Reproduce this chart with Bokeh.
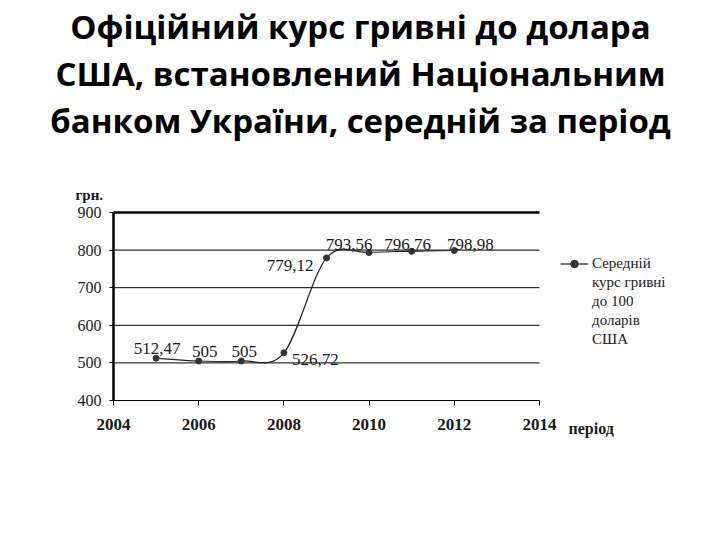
import numpy as np
from bokeh.plotting import figure
from bokeh.models import (ColumnDataSource, Legend, LegendItem, FixedTicker,
                          LinearAxis, Range1d, Label, Title)
from bokeh.core.properties import value
from bokeh.embed import file_html
from bokeh.resources import INLINE

# ---------------- data ----------------
years = [2005, 2006, 2007, 2008, 2009, 2010, 2011, 2012]
rates = [512.47, 505, 505, 526.72, 779.12, 793.56, 796.76, 798.98]
rate_labels = ["512,47", "505", "505", "526,72", "779,12", "793,56", "796,76", "798,98"]
x_ticks = [2004, 2006, 2008, 2010, 2012, 2014]
y_ticks = [400, 500, 600, 700, 800, 900]
title_lines = ["Офіційний курс гривні до долара",
               "США, встановлений Національним",
               "банком України, середній за період"]
legend_lines = ["Середній", "курс гривні", "до 100", "доларів", "США"]
y_unit = "грн."
x_name = "період"

# label placement (pixel nudges, layout only)
label_dx = [1, 6, 3, 8, -13, -20, -4, 16]
label_dy = [-10, -10, -10, 7, 8, -8, -7, -6]
label_align = ["center", "center", "center", "left", "right", "center", "center", "center"]

SERIF = "Liberation Serif"
TXT = "#1a1a1a"

# ---------------- layout (pixels) ----------------
W, H = 720, 540
FL, FR, FT, FB = 45, 675, 142, 450      # frame edges on the canvas
AX_L, AX_R, AX_T, AX_B = 113, 539, 212, 400  # where the axes box sits
xs0, xs1 = x_ticks[0], x_ticks[-1]
ys0, ys1 = y_ticks[0], y_ticks[-1]
kx = (AX_R - AX_L) / (xs1 - xs0)
ky = (AX_B - AX_T) / (ys1 - ys0)
x_range = Range1d(xs0 - (AX_L - FL) / kx, xs1 + (FR - AX_R) / kx)
y_range = Range1d(ys0 - (FB - AX_B) / ky, ys1 + (AX_T - FT) / ky)

p = figure(width=W, height=H, output_backend="svg", toolbar_location=None,
           x_range=x_range, y_range=y_range,
           min_border_left=FL, min_border_right=W - FR, min_border_top=FT,
           min_border_bottom=H - FB, x_axis_type=None, y_axis_type=None)
p.outline_line_color = None
p.background_fill_color = "white"
p.border_fill_color = "white"

# axes, crossing at the corner of the value box
xa = LinearAxis(ticker=FixedTicker(ticks=x_ticks), fixed_location=ys0, bounds=(xs0, xs1))
xa.axis_line_color = "black"
xa.axis_line_width = 1
xa.major_tick_out = 5
xa.major_tick_in = 0
xa.major_tick_line_color = "black"
xa.minor_tick_line_color = None
xa.major_label_standoff = 13
xa.major_label_text_font = SERIF
xa.major_label_text_font_size = "17px"
xa.major_label_text_font_style = "bold"
xa.major_label_text_color = TXT
p.add_layout(xa, "below")

ya = LinearAxis(ticker=FixedTicker(ticks=y_ticks), fixed_location=xs0, bounds=(ys0, ys1))
ya.axis_line_color = "black"
ya.axis_line_width = 2.5
ya.major_tick_out = 4
ya.major_tick_in = 0
ya.major_tick_line_color = "black"
ya.minor_tick_line_color = None
ya.major_label_standoff = 8
ya.major_label_text_font = SERIF
ya.major_label_text_font_size = "16px"
ya.major_label_text_color = TXT
p.add_layout(ya, "left")

# horizontal grid lines across the value box (top one heavier)
p.segment(x0=xs0, x1=xs1, y0=y_ticks[1:-1], y1=y_ticks[1:-1],
          line_color="black", line_width=1)
p.segment(x0=xs0, x1=xs1, y0=[ys1], y1=[ys1], line_color="black", line_width=2.5)

# title: three centred lines, stacked upward from the frame (last line first)
p.title.text = ""
p.title.standoff = 0
p.title.text_font_size = "0px"
for line in reversed(title_lines):
    p.add_layout(Title(text=line, align="center", text_font="Open Sans",
                       text_font_size="33px", text_font_style="bold",
                       text_color="black", text_line_height=1.0, standoff=0,
                       offset=0), "above")

# smooth line (Catmull-Rom segments as Bezier curves through the data points)
xs = np.array(years, dtype=float)
ys = np.array(rates, dtype=float)
xp = np.concatenate([[xs[0]], xs, [xs[-1]]])
yp = np.concatenate([[ys[0]], ys, [ys[-1]]])
seg = ColumnDataSource(dict(
    x0=xs[:-1], y0=ys[:-1], x1=xs[1:], y1=ys[1:],
    cx0=xs[:-1] + (xp[2:-1] - xp[:-3]) / 6.0,
    cy0=ys[:-1] + (yp[2:-1] - yp[:-3]) / 6.0,
    cx1=xs[1:] - (xp[3:] - xp[1:-2]) / 6.0,
    cy1=ys[1:] - (yp[3:] - yp[1:-2]) / 6.0,
))
curve = p.bezier(x0="x0", y0="y0", x1="x1", y1="y1", cx0="cx0", cy0="cy0",
                 cx1="cx1", cy1="cy1", source=seg, line_color="#222222", line_width=1.2)

src = ColumnDataSource(dict(x=years, y=rates, t=rate_labels,
                            dx=label_dx, dy=label_dy, al=label_align))
pts = p.scatter(x="x", y="y", source=src, size=6, fill_color="#333333",
                line_color="#333333")
p.text(x="x", y="y", text="t", source=src, x_offset="dx", y_offset="dy",
       text_align="al", text_baseline="alphabetic", text_font=value(SERIF),
       text_font_size="17px", text_color=TXT)

# empty, transparent renderer used for text-only legend rows
blank = p.scatter(x=[], y=[], size=1, alpha=0)

items = [LegendItem(label=legend_lines[0], renderers=[curve, pts])]
items += [LegendItem(label=t, renderers=[blank]) for t in legend_lines[1:]]
leg = Legend(items=items, location=(560 - FL, FB - 349), orientation="vertical")
leg.padding = 0
leg.margin = 0
leg.spacing = 0
leg.glyph_width = 28
leg.glyph_height = 19
leg.label_height = 19
leg.label_standoff = 4
leg.label_text_font = SERIF
leg.label_text_font_size = "15px"
leg.label_text_color = TXT
leg.border_line_color = None
leg.background_fill_alpha = 0
leg.inactive_fill_alpha = 0
p.add_layout(leg, "center")

# axis captions
p.add_layout(Label(x=75 - FL, y=FB - 194, x_units="screen", y_units="screen", text=y_unit,
                   text_font=SERIF, text_font_size="15px", text_font_style="bold",
                   text_color=TXT, text_baseline="alphabetic"))
p.add_layout(Label(x=568 - FL, y=FB - 428, x_units="screen", y_units="screen", text=x_name,
                   text_font=SERIF, text_font_size="16px", text_font_style="bold",
                   text_color=TXT, text_baseline="alphabetic"))

open("out.html", "w").write(file_html(p, INLINE))
